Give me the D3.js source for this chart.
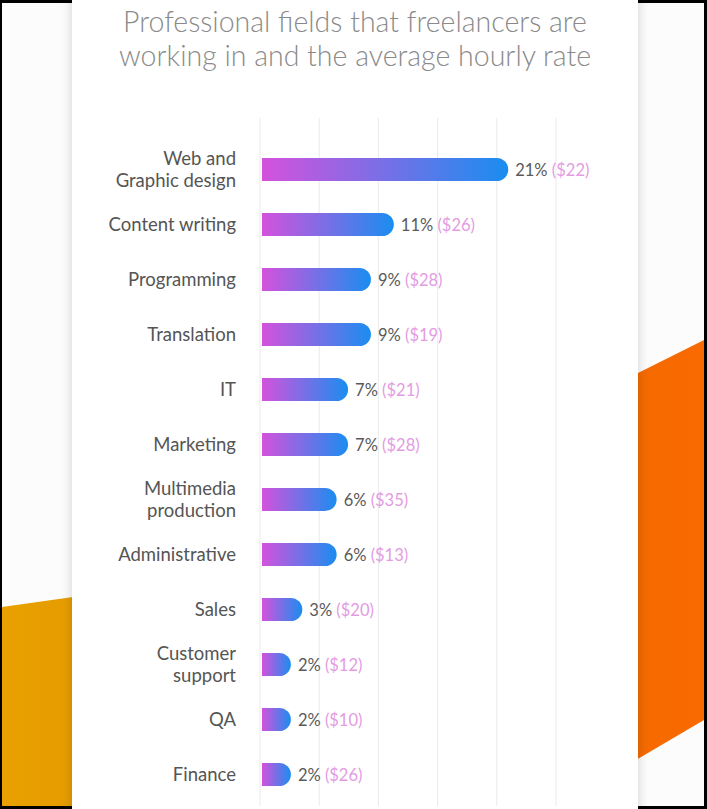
<!DOCTYPE html>
<html>
<head>
<meta charset="utf-8">
<script src="https://cdn.jsdelivr.net/npm/d3@7"></script>
<style>
  html, body { margin: 0; padding: 0; background: #000; }
  svg { display: block; }
</style>
</head>
<body>
<div id="chart"></div>
<script>
// data
const fields = [
  ["Web and", "Graphic design"],
  ["Content writing"],
  ["Programming"],
  ["Translation"],
  ["IT"],
  ["Marketing"],
  ["Multimedia", "production"],
  ["Administrative"],
  ["Sales"],
  ["Customer", "support"],
  ["QA"],
  ["Finance"]
];
const shares = [21, 11, 9, 9, 7, 7, 6, 6, 3, 2, 2, 2];
const rates = [22, 26, 28, 19, 21, 28, 35, 13, 20, 12, 10, 26];
const gridSteps = [0, 1, 2, 3, 4, 5];

const width = 707;
const height = 809;

const svg = d3.select("#chart")
  .append("svg")
  .attr("width", width)
  .attr("height", height);

const defs = svg.append("defs");

// bar gradient (per bar)
const grad = defs.append("linearGradient")
  .attr("id", "barGrad")
  .attr("x1", "0%").attr("x2", "100%")
  .attr("y1", "0%").attr("y2", "0%");
grad.append("stop").attr("offset", "0%").attr("stop-color", "#d452dc");
grad.append("stop").attr("offset", "100%").attr("stop-color", "#1a8df0");

const leftGrad = defs.append("linearGradient")
  .attr("id", "leftGrad")
  .attr("x1", "0%").attr("x2", "100%");
leftGrad.append("stop").attr("offset", "0%").attr("stop-color", "#e9a000");
leftGrad.append("stop").attr("offset", "100%").attr("stop-color", "#db8e00");

const rightGrad = defs.append("linearGradient")
  .attr("id", "rightGrad")
  .attr("x1", "0%").attr("x2", "100%");
rightGrad.append("stop").attr("offset", "0%").attr("stop-color", "#ee6a00");
rightGrad.append("stop").attr("offset", "100%").attr("stop-color", "#f96a00");

const shadow = defs.append("filter")
  .attr("id", "cardShadow")
  .attr("x", "-10%").attr("y", "-10%")
  .attr("width", "120%").attr("height", "120%");
shadow.append("feGaussianBlur").attr("in", "SourceAlpha").attr("stdDeviation", 6);
shadow.append("feComponentTransfer").append("feFuncA").attr("type", "linear").attr("slope", 0.18);
const merge = shadow.append("feMerge");
merge.append("feMergeNode");
merge.append("feMergeNode").attr("in", "SourceGraphic");

// background
svg.append("rect")
  .attr("x", 2).attr("y", 3)
  .attr("width", width - 5).attr("height", height - 6)
  .attr("fill", "#fcfcfc");

// orange shapes behind the card
svg.append("path")
  .attr("d", "M2,607 L300,565 L300,806 L2,806 Z")
  .attr("fill", "url(#leftGrad)");
svg.append("path")
  .attr("d", "M500,442 L704,340 L704,720 L500,840 Z")
  .attr("fill", "url(#rightGrad)");

// card
svg.append("rect")
  .attr("x", 72).attr("y", -20)
  .attr("width", 566).attr("height", height + 40)
  .attr("fill", "#ffffff")
  .attr("filter", "url(#cardShadow)");

// title
const title = svg.append("text")
  .attr("text-anchor", "middle")
  .attr("font-family", "Lato, 'Open Sans', sans-serif")
  .attr("font-weight", 300)
  .attr("font-size", 28.5)
  .attr("fill", "#8a8a8a");
title.append("tspan").attr("x", 355).attr("y", 32).text("Professional fields that freelancers are");
title.append("tspan").attr("x", 355).attr("y", 66).text("working in and the average hourly rate");

// scales
const x = d3.scaleLinear().domain([0, 25]).range([262, 548]);
const gridX = d3.scaleLinear().domain([0, 5]).range([260, 556]);
const y = d3.scaleBand()
  .domain(d3.range(fields.length))
  .range([142, 802])
  .paddingInner(0.58)
  .paddingOuter(0.29);

// gridlines
svg.append("g")
  .selectAll("line")
  .data(gridSteps)
  .enter()
  .append("line")
  .attr("x1", d => gridX(d))
  .attr("x2", d => gridX(d))
  .attr("y1", 118)
  .attr("y2", 806)
  .attr("stroke", "#eeeeee")
  .attr("stroke-width", 1.2);

// bars: square left edge, round right edge
const bh = y.bandwidth();
const r = bh / 2;
svg.append("g")
  .selectAll("path")
  .data(shares)
  .enter()
  .append("path")
  .attr("d", (d, i) => {
    const x0 = x(0), x1 = x(d) + 6, y0 = y(i);
    return `M${x0},${y0} H${x1 - r} A${r},${r} 0 0 1 ${x1 - r},${y0 + bh} H${x0} Z`;
  })
  .attr("fill", "url(#barGrad)");

// category labels
const labels = svg.append("g")
  .attr("font-family", "Lato, 'Open Sans', sans-serif")
  .attr("font-size", 18.5)
  .attr("fill", "#555555")
  .attr("text-anchor", "end");
labels.selectAll("text")
  .data(fields)
  .enter()
  .append("text")
  .each(function(d, i) {
    const cy = y(i) + bh / 2;
    const t = d3.select(this);
    d.forEach((line, k) => {
      t.append("tspan")
        .attr("x", 236)
        .attr("y", cy + 6 + (k - (d.length - 1) / 2) * 22)
        .text(line);
    });
  });

// value labels
const vals = svg.append("g")
  .attr("font-family", "Lato, 'Open Sans', sans-serif")
  .attr("font-size", 16.5);
vals.selectAll("text")
  .data(shares)
  .enter()
  .append("text")
  .attr("x", d => x(d) + 13)
  .attr("y", (d, i) => y(i) + bh / 2 + 6)
  .each(function(d, i) {
    const t = d3.select(this);
    t.append("tspan").attr("fill", "#5a5a5a").text(d + "%");
    t.append("tspan").attr("fill", "#e39be2").text(" ($" + rates[i] + ")");
  });
</script>
</body>
</html>
